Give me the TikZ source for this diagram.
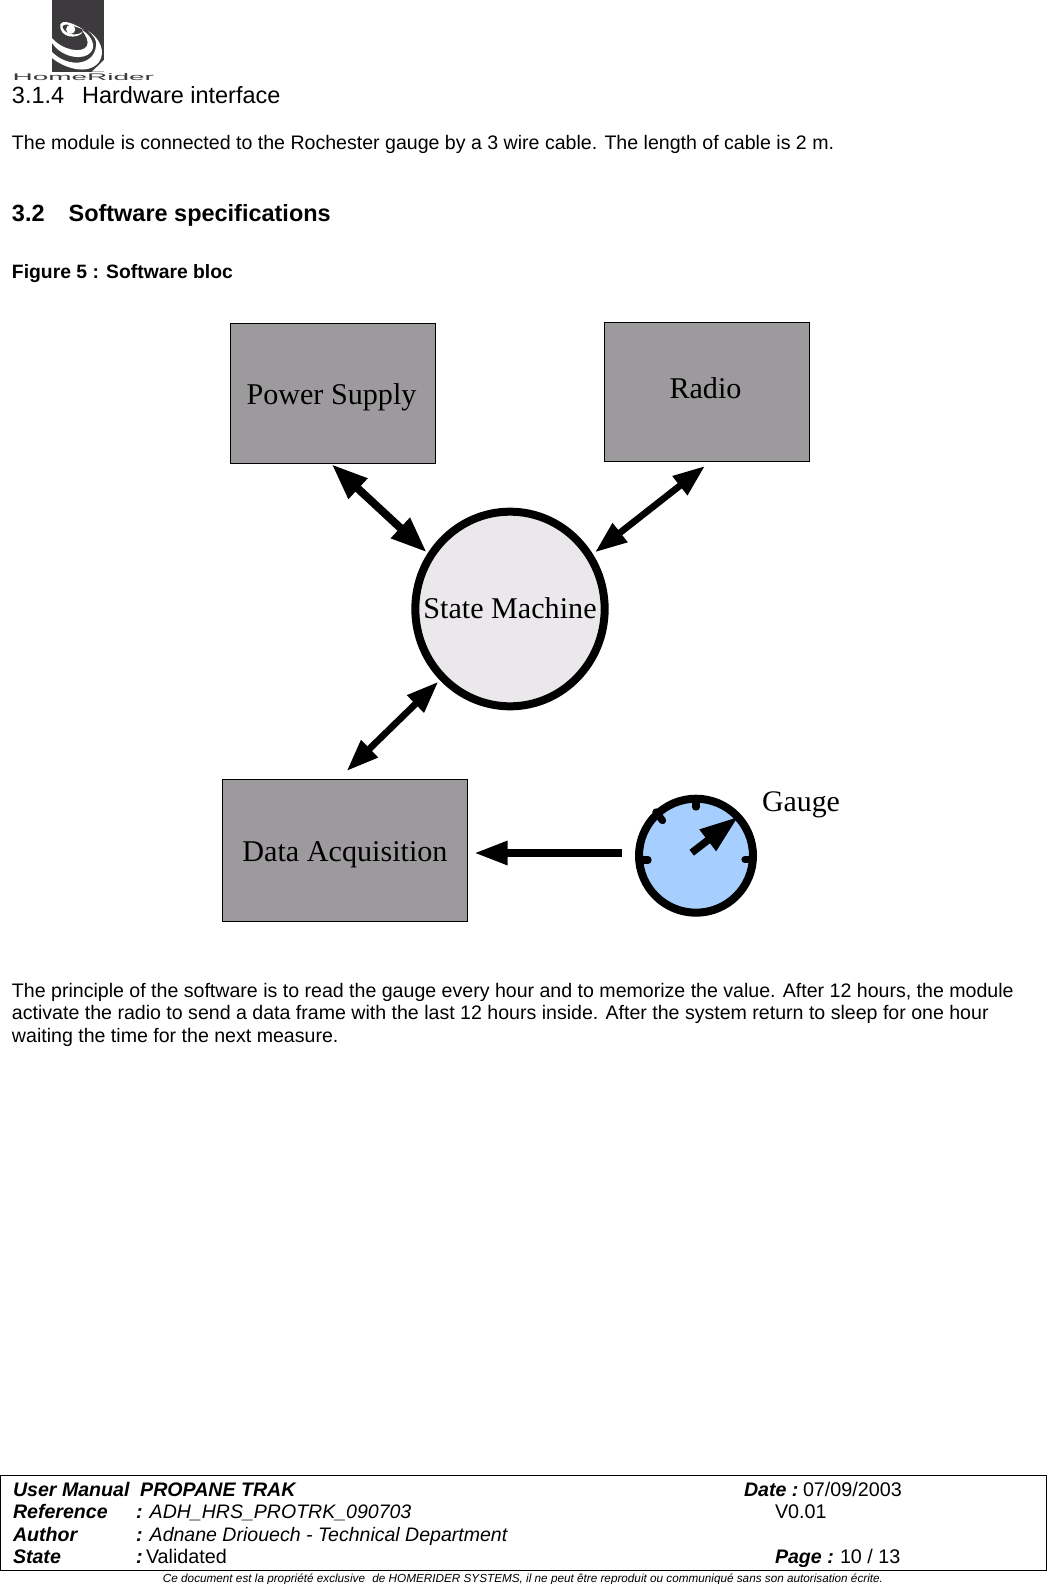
\documentclass[tikz,border=0pt]{standalone}
\usepackage{fontspec}
\setmainfont{Liberation Sans}
\newfontfamily\seriffont{Liberation Serif}
\usetikzlibrary{arrows.meta,shapes.geometric}
\definecolor{boxgray}{HTML}{9C9A9C}
\definecolor{smfill}{HTML}{EBE8EB}
\definecolor{gaugeblue}{HTML}{A6CFFF}
\definecolor{logodark}{HTML}{3C3A3C}
\tikzset{
 x=0.75pt,y=-0.75pt,
 txt/.style={anchor=base west,inner sep=0pt,outer sep=0pt,font=\fontsize{14.68}{16}\selectfont},
 head/.style={txt,font=\fontsize{17.6}{20}\selectfont},
 bhead/.style={txt,font=\fontsize{17.6}{20}\selectfont\bfseries},
 figlabel/.style={txt,font=\fontsize{14.5}{16}\selectfont\bfseries},
 foot/.style={txt,font=\fontsize{14.8}{16}\selectfont},
 footb/.style={txt,font=\fontsize{14.7}{16}\selectfont\bfseries\itshape},
 footi/.style={txt,font=\fontsize{14.65}{16}\selectfont\itshape},
 block/.style={draw=black,line width=0.6pt,fill=boxgray,inner sep=0pt,minimum width=#1},
 blabel/.style={inner sep=0pt,font=\fontsize{22.6}{26}\selectfont\seriffont},
 twoway/.style={{Triangle[length=27pt,width=19.5pt]}-{Triangle[length=27pt,width=19.5pt]},line width=6pt},
 twowayb/.style={{Triangle[length=24pt,width=17pt]}-{Triangle[length=24pt,width=17pt]},line width=5pt},
 oneway/.style={-{Triangle[length=25pt,width=17pt]},line width=5.3pt},
 needle/.style={-{Triangle[length=29pt,width=19pt]},line width=5.5pt},
 gtick/.style={line width=5.5pt,line cap=round},
}
\begin{document}
\begin{tikzpicture}
\useasboundingbox (0,0) rectangle (1046,1584);
\fill[white] (0,0) rectangle (1046,1584);

% logo
\fill[logodark] (52,0) rectangle (104,71.6);
\begin{scope}
 \clip (52,0) rectangle (104,71.6);
 \fill[white] (60.5,24) .. controls (62,20) and (72,22) .. (84,30) .. controls (73,25) and (64,23) .. (62.5,26) .. controls (62,32) and (74,38) .. (83,31.7) .. controls (78,40) and (58,38) .. (60.5,24) -- cycle;
 \fill[white] (70.7,29.3) circle (4.6);
 \fill[white] (52,38) .. controls (62,50) and (82,54) .. (87,46) .. controls (89,41) and (86,36) .. (82,30) .. controls (92,36) and (96,46) .. (91,52) .. controls (84,61) and (62,58) .. (52,43) -- cycle;
 \fill[white] (52,52) .. controls (68,68) and (94,66) .. (96,46) .. controls (97,40) and (94,36) .. (88,31) .. controls (100,38) and (106,52) .. (99,62) .. controls (88,76) and (64,68) .. (52,58) -- cycle;
 \fill[white] (92,71.6) -- (104,60) -- (104,71.6) -- cycle;
\end{scope}
\node[inner sep=0pt,text=logodark,font=\fontsize{9}{10}\selectfont,xscale=2.33,yscale=0.8,anchor=base] (logotext) at (83.3,81) {HomeRider};

% text
\node[head] (h314) at (12,104) {3.1.4\hspace{13.5pt}Hardware interface};
\node[txt] (p1) at (12,149.5) {The module is connected to the Rochester gauge by a 3 wire cable. The length of cable is 2 m.};
\node[bhead] (h32) at (12,221) {3.2\hspace{18pt}Software specifications};
\node[figlabel] (figcap) at (12,278) {Figure 5 : Software bloc};

% diagram
\node[block=153.4pt,minimum height=104.8pt,anchor=north west] (power) at (230.4,323.4) {};
\node[block=153.4pt,minimum height=103.9pt,anchor=north west] (radio) at (604.3,322.4) {};
\node[block=183.7pt,minimum height=106.4pt,anchor=north west] (data) at (222.3,779) {};
\node[blabel] (powerl) at (331.5,397) {Power Supply};
\node[blabel] (radiol) at (705.5,388) {Radio};
\node[blabel] (datal) at (345,855) {Data Acquisition};
\node[ellipse,draw=black,fill=smfill,line width=6pt,minimum width=142pt,minimum height=146pt,inner sep=0pt] (sm) at (510,609) {};
\node[blabel] (sml) at (510,608) {State Machine};

\coordinate (pa) at (331.7,464.3);
\coordinate (pb) at (426.7,552.3);
\coordinate (ra) at (705,466);
\coordinate (rb) at (595,552.3);
\coordinate (da) at (438.3,681.7);
\coordinate (db) at (346.7,771);
\coordinate (ga) at (621.7,853);
\coordinate (gb) at (474.3,853);
\draw[twoway] (pa) -- (pb);
\draw[twowayb] (ra) -- (rb);
\draw[twowayb] (da) -- (db);
\draw[oneway] (ga) -- (gb);

% gauge
\node[circle,draw=black,fill=gaugeblue,line width=6pt,minimum size=85.5pt,inner sep=0pt] (gauge) at (696,855.7) {};
\draw[gtick] (696,800) -- (696,807);
\draw[gtick] (641,860) -- (648,860);
\draw[gtick] (752,859.5) -- (745,859.5);
\draw[gtick] (656,812) -- (662.5,820.5);
\coordinate (na) at (691.7,852.7);
\coordinate (nb) at (738.3,816.7);
\draw[needle] (na) -- (nb);
\node[blabel,font=\fontsize{22.4}{24}\selectfont\seriffont] (gaugel) at (801,805) {Gauge};

% body
\node[txt] (b1) at (12,997) {The principle of the software is to read the gauge every hour and to memorize the value. After 12 hours, the module};
\node[txt] (b2) at (12,1019.5) {activate the radio to send a data frame with the last 12 hours inside. After the system return to sleep for one hour};
\node[txt] (b3) at (12,1042) {waiting the time for the next measure.};

% footer
\draw[line width=0.7pt] (0,1475.5) rectangle (1046,1570);
\node[footb] (f1) at (13,1496) {User Manual\hspace{8pt}PROPANE TRAK};
\node[footb] (f2) at (13,1518.5) {Reference};
\node[footi] (f2b) at (136,1518.5) {\textbf{:} ADH\_HRS\_PROTRK\_090703};
\node[footb] (f3) at (13,1541) {Author};
\node[footi] (f3b) at (136,1541) {\textbf{:} Adnane Driouech - Technical Department};
\node[footb] (f4) at (13,1563) {State};
\node[foot] (f4b) at (136,1563) {\textbf{\itshape :}\hspace{2.6pt}Validated};
\node[footb] (f5) at (744,1496) {Date :};
\node[foot] (f5b) at (803,1496) {07/09/2003};
\node[foot] (f6) at (775,1518.5) {V0.01};
\node[footb] (f7) at (775,1563) {Page :};
\node[foot] (f7b) at (840,1563) {10 / 13};
\node[txt,font=\fontsize{8.8}{10}\selectfont\itshape,anchor=base] (f8) at (523,1582) {Ce document est la propriété exclusive\hspace{3pt} de HOMERIDER SYSTEMS, il ne peut être reproduit ou communiqué sans son autorisation écrite.};
\end{tikzpicture}
\end{document}
